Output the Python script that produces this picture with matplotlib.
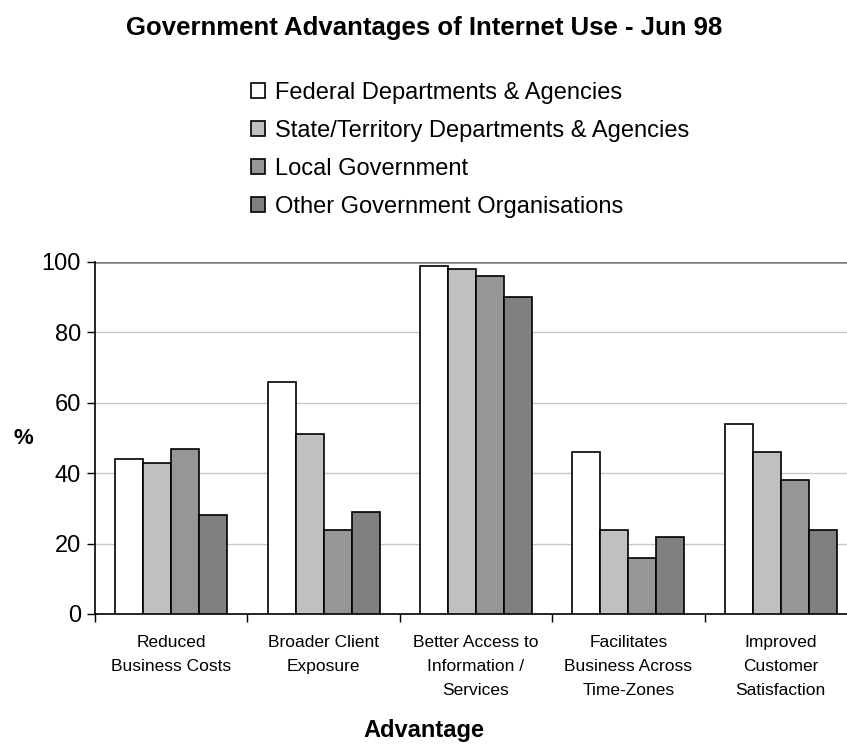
import matplotlib
matplotlib.use("Agg")
import matplotlib.pyplot as plt
from matplotlib.patches import Patch
import numpy as np

categories = ["Reduced\nBusiness Costs", "Broader Client\nExposure",
              "Better Access to\nInformation /\nServices",
              "Facilitates\nBusiness Across\nTime-Zones",
              "Improved\nCustomer\nSatisfaction"]
series_names = ["Federal Departments & Agencies",
                "State/Territory Departments & Agencies",
                "Local Government",
                "Other Government Organisations"]
federal = [44, 66, 99, 46, 54]
state = [43, 51, 98, 24, 46]
local = [47, 24, 96, 16, 38]
other = [28, 29, 90, 22, 24]
yticks = [0, 20, 40, 60, 80, 100]

colors = ["#FFFFFF", "#C0C0C0", "#969696", "#808080"]
values = [federal, state, local, other]

plt.rcParams['font.family'] = ['Liberation Sans', 'DejaVu Sans']

W, H = 847, 744
fig = plt.figure(figsize=(W / 100, H / 100), dpi=100)
ax_left, ax_right, ax_top, ax_bot = 95, 857, 262, 614
ax = fig.add_axes([ax_left / W, 1 - ax_bot / H, (ax_right - ax_left) / W, (ax_bot - ax_top) / H])

n = len(categories)
x = np.arange(n)
bw = 0.184
for i, (vals, c) in enumerate(zip(values, colors)):
    ax.bar(x + (i - 1.5) * bw, vals, width=bw, color=c, edgecolor="black", linewidth=1.2, zorder=3)

ax.set_xlim(-0.5, n - 0.5)
ax.set_ylim(0, 100)
ax.set_yticks(yticks)
ax.set_yticklabels([str(v) for v in yticks], fontsize=17)
for v in yticks[1:-1]:
    ax.axhline(v, color="#C8C8C8", linewidth=1.0, zorder=1)
ax.axhline(100, color="#7A7A7A", linewidth=1.8, zorder=1)

ax.set_xticks(x)
ax.set_xticklabels(categories, fontsize=12.5, va="top", linespacing=1.75)
ax.set_xticks(np.arange(-0.5, n, 1), minor=True)
ax.tick_params(axis="x", which="major", length=0, pad=15)
ax.tick_params(axis="x", which="minor", length=6, width=1, direction="out")
ax.tick_params(axis="y", length=6, width=1, direction="out", pad=4)

for s in ["top", "right"]:
    ax.spines[s].set_visible(False)
ax.spines["left"].set_linewidth(1.2)
ax.spines["bottom"].set_linewidth(1.2)

fig.text(424 / W, 1 - 28 / H, "Government Advantages of Internet Use - Jun 98",
         ha="center", va="center", fontsize=18.5, fontweight="bold")
fig.text(23 / W, 1 - 438 / H, "%", ha="center", va="center", fontsize=16, fontweight="bold")
fig.text(424 / W, 1 - 731 / H, "Advantage", ha="center", va="center", fontsize=17, fontweight="bold")

handles = [Patch(facecolor=c, edgecolor="black", linewidth=1.2) for c in colors]
fig.legend(handles, series_names, loc="upper left", bbox_to_anchor=(251 / W, 1 - 82 / H),
           frameon=False, fontsize=17, handlelength=0.6, handleheight=0.6,
           handletextpad=0.4, labelspacing=0.68, borderaxespad=0, borderpad=0)

fig.savefig("out.png", dpi=100)
